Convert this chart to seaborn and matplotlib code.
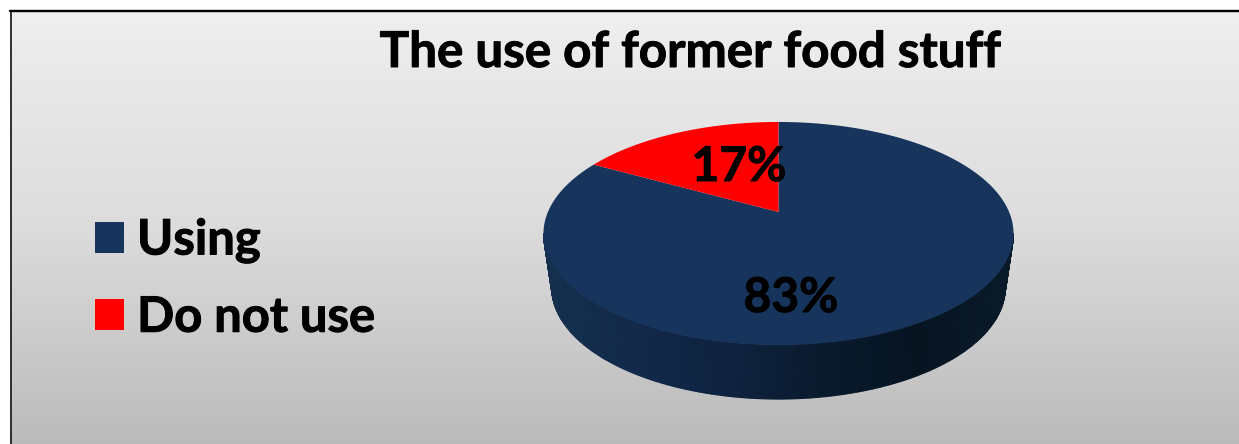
import numpy as np
import matplotlib
matplotlib.use("Agg")
import matplotlib.pyplot as plt
import matplotlib.patheffects as pe
from matplotlib.colors import LinearSegmentedColormap
from matplotlib.patches import Patch
import seaborn as sns

title = "The use of former food stuff"
categories = ["Using", "Do not use"]
shares = [83, 17]
slice_colors = ["#17355C", "#FF0000"]
wall_colors = ["#15304F", "#12294A", "#0F2340", "#0A1A2D", "#071522", "#0A1B2B"]

sns.set_theme(style="white")
plt.rcParams["font.family"] = ["Lato", "DejaVu Sans"]
plt.rcParams["text.color"] = "black"
palette = sns.color_palette(slice_colors)
heavier = [pe.withStroke(linewidth=0.7, foreground="black")]

fig = plt.figure(figsize=(12.39, 4.44), dpi=100)
ax = fig.add_axes([0, 0, 1, 1])
ax.axis("off")

# Panel with a vertical grey fade, dark rule on its left and top sides
fade = LinearSegmentedColormap.from_list("fade", ["#EFEFEF", "#DCDCDC", "#BBBBBB"])
ax.imshow(np.linspace(0, 1, 256).reshape(-1, 1), cmap=fade, aspect="auto",
          extent=(10, 1239, 444, 11), zorder=0)
ax.plot([10.5, 10.5], [444, 11], color="#222222", lw=1.3, zorder=1)
ax.plot([10, 1239], [11, 11], color="black", lw=1.7, zorder=1)
ax.set_xlim(0, 1239)
ax.set_ylim(444, 0)

# Projective view of the pie disc: a circle seen from above
CX, CY = 778.5, 212.0
BX, BY = 230.6, 107.4
TILT = 0.193
DEPTH = 54.0
BASE_SCALE = 0.965


def project(theta):
    """Map clockwise-from-north angles (radians) onto the tilted disc."""
    u, v = np.sin(theta), np.cos(theta)
    w = 1 + TILT * v
    return CX + BX * u / w, CY - BY * v / w


# Side wall: from the widest point on the left, round the front, to the right
edge = np.arccos(-TILT)
wall_t = np.linspace(2 * np.pi - edge, edge, 240)
top_x, top_y = project(wall_t)
base_x = CX + BASE_SCALE * (top_x - CX)
base_y = top_y + DEPTH
mesh_x = np.vstack([top_x, base_x])
mesh_y = np.vstack([top_y, base_y])
shade = (mesh_x - mesh_x.min()) / (mesh_x.max() - mesh_x.min())
wall_map = LinearSegmentedColormap.from_list("wall", wall_colors)
ax.pcolormesh(mesh_x, mesh_y, shade, shading="gouraud", cmap=wall_map, zorder=2)

# Top face, one sector per category, clockwise from twelve o'clock
edges = np.radians(np.cumsum([0] + shares) * 360 / sum(shares))
for start, stop, colour in zip(edges[:-1], edges[1:], palette):
    t = np.linspace(start, stop, 300)
    x, y = project(t)
    ax.fill(np.r_[CX, x], np.r_[CY, y], color=colour, lw=0, zorder=3)

# Percentage labels
for share, (lx, ly) in zip(shares, [(791, 312), (739, 181)]):
    ax.text(lx, ly, f"{share}%", ha="center", va="baseline", fontsize=34.5,
            fontweight="bold", color="black", zorder=4, path_effects=heavier)

ax.text(690, 67, title, ha="center", va="baseline", fontsize=35.5,
        fontweight="bold", color="black", zorder=4, path_effects=heavier)

handles = [Patch(facecolor=c, edgecolor="none", label=n) for c, n in zip(palette, categories)]
legend = ax.legend(handles=handles, loc="upper left", bbox_to_anchor=(95, 217.5),
                   bbox_transform=ax.transData, frameon=False,
                   handlelength=0.60, handleheight=0.60, handletextpad=0.26,
                   labelspacing=0.65, borderpad=0, borderaxespad=0,
                   labelcolor="black",
                   prop={"family": "Lato", "weight": "bold", "size": 35.2})
for label in legend.get_texts():
    label.set_path_effects(heavier)

fig.savefig("out.png", dpi=100, facecolor="white")
